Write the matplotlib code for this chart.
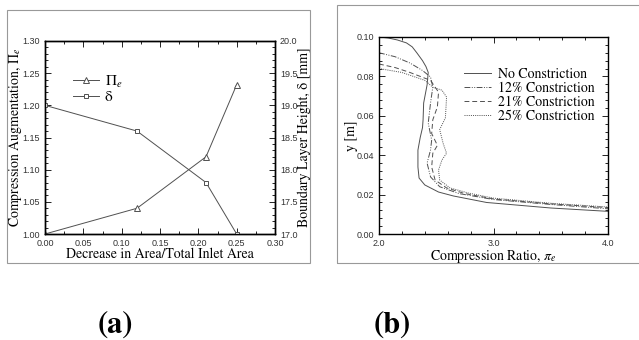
import matplotlib
matplotlib.use("Agg")
import matplotlib.pyplot as plt
from matplotlib.patches import Rectangle
from matplotlib.ticker import MultipleLocator

plt.rcParams["font.family"] = ["STIXGeneral", "DejaVu Serif"]
plt.rcParams["mathtext.fontset"] = "stix"

# panel (a)
area = [0.0, 0.12, 0.21, 0.25]
pi_e = [1.00, 1.04, 1.12, 1.232]
delta = [19.0, 18.6, 17.8, 17.0]

# panel (b): (compression ratio, y)
no_x = [2.0, 2.08, 2.16, 2.24, 2.29, 2.33, 2.38, 2.41, 2.43, 2.42, 2.39, 2.385, 2.38, 2.36, 2.34, 2.34, 2.35, 2.40, 2.52, 2.65, 2.94, 3.5, 4.0]
no_y = [0.100, 0.0995, 0.0985, 0.097, 0.095, 0.092, 0.088, 0.085, 0.082, 0.0757, 0.0665, 0.058, 0.054, 0.049, 0.0426, 0.034, 0.0284, 0.0249, 0.0213, 0.0193, 0.016, 0.0132, 0.0115]
c12_x = [2.0, 2.14, 2.27, 2.38, 2.45, 2.47, 2.45, 2.43, 2.46, 2.45, 2.42, 2.45, 2.53, 2.70, 3.0, 3.5, 4.0]
c12_y = [0.092, 0.090, 0.0868, 0.083, 0.0797, 0.0746, 0.0665, 0.0563, 0.0477, 0.0426, 0.036, 0.029, 0.024, 0.0205, 0.0175, 0.015, 0.0128]
c21_x = [2.0, 2.14, 2.27, 2.45, 2.52, 2.51, 2.47, 2.46, 2.51, 2.47, 2.46, 2.49, 2.59, 2.75, 3.0, 3.5, 4.0]
c21_y = [0.0863, 0.0845, 0.082, 0.078, 0.072, 0.0645, 0.058, 0.051, 0.045, 0.041, 0.034, 0.0274, 0.0234, 0.0205, 0.0178, 0.0153, 0.0134]
c25_x = [2.0, 2.2, 2.40, 2.47, 2.55, 2.59, 2.58, 2.53, 2.56, 2.59, 2.55, 2.52, 2.53, 2.62, 2.78, 3.0, 3.5, 4.0]
c25_y = [0.084, 0.082, 0.078, 0.0745, 0.073, 0.0695, 0.059, 0.053, 0.046, 0.041, 0.0376, 0.0325, 0.0274, 0.0234, 0.0208, 0.0182, 0.0156, 0.0137]

lc = "#505050"
fig = plt.figure(figsize=(6.39, 3.40), dpi=100)

# panel frames
fig.patches.append(Rectangle((7 / 639, 1 - 263 / 340), 303 / 639, 253 / 340, transform=fig.transFigure,
                             fill=False, ec="#999999", lw=0.8))
fig.patches.append(Rectangle((337 / 639, 1 - 263 / 340), 400 / 639, 258 / 340, transform=fig.transFigure,
                             fill=False, ec="#999999", lw=0.8))

def style(ax):
    ax.tick_params(which="both", direction="in", labelsize=6.5, width=0.6,
                   labelfontfamily="Liberation Sans", labelcolor="#333333")
    ax.tick_params(which="major", length=4)
    ax.tick_params(which="minor", length=2)
    for s in ax.spines.values():
        s.set_linewidth(1.0)

ax1 = fig.add_axes([45 / 639, 1 - 234 / 340, 230 / 639, 193 / 340])
l1, = ax1.plot(area, pi_e, color=lc, lw=0.7, marker="^", ms=4, mfc="white", mec=lc, mew=0.7)
ax1.set_xlim(0, 0.30)
ax1.set_ylim(1.0, 1.30)
ax1.xaxis.set_major_locator(MultipleLocator(0.05))
ax1.xaxis.set_minor_locator(MultipleLocator(0.025))
ax1.yaxis.set_major_locator(MultipleLocator(0.05))
ax1.yaxis.set_minor_locator(MultipleLocator(0.01))
ax1.tick_params(which="both", top=True)
ax1.xaxis.set_major_formatter(plt.FormatStrFormatter("%.2f"))
ax1.yaxis.set_major_formatter(plt.FormatStrFormatter("%.2f"))
ax1.set_xlabel("Decrease in Area/Total Inlet Area", fontsize=10, labelpad=0)
ax1.set_ylabel(r"Compression Augmentation, $\Pi_e$", fontsize=10)
ax1.yaxis.set_label_coords(-0.09, 0.5)
ax2 = ax1.twinx()
l2, = ax2.plot(area, delta, color=lc, lw=0.7, marker="s", ms=3.5, mfc="white", mec=lc, mew=0.7)
ax2.set_ylim(17.0, 20.0)
ax2.yaxis.set_major_locator(MultipleLocator(0.5))
ax2.yaxis.set_minor_locator(MultipleLocator(0.1))
ax2.yaxis.set_major_formatter(plt.FormatStrFormatter("%.1f"))
ax2.set_ylabel("Boundary Layer Height, δ [mm]", fontsize=10)
ax2.yaxis.set_label_coords(1.10, 0.5)
style(ax1)
style(ax2)
ax1.legend([l1, l2], [r"$\Pi_e$", "δ"], loc="upper left", bbox_to_anchor=(0.087, 0.87), frameon=False,
           fontsize=11, handlelength=1.7, handletextpad=0.4, labelspacing=0.05, borderpad=0)

ax3 = fig.add_axes([379 / 639, 1 - 234 / 340, 229 / 639, 197 / 340])
ax3.plot(no_x, no_y, color=lc, lw=0.7, ls="-", label="No Constriction")
ax3.plot(c12_x, c12_y, color=lc, lw=0.7, ls=(0, (6, 1.5, 1, 1.5, 1, 1.5)), label="12% Constriction")
ax3.plot(c21_x, c21_y, color=lc, lw=0.7, ls=(0, (5, 3)), label="21% Constriction")
ax3.plot(c25_x, c25_y, color=lc, lw=0.7, ls=(0, (1, 1.2)), label="25% Constriction")
ax3.set_xlim(2.0, 4.0)
ax3.set_ylim(0.0, 0.10)
ax3.xaxis.set_major_locator(MultipleLocator(1.0))
ax3.xaxis.set_minor_locator(MultipleLocator(0.2))
ax3.yaxis.set_major_locator(MultipleLocator(0.02))
ax3.yaxis.set_minor_locator(MultipleLocator(0.004))
ax3.tick_params(which="both", top=True, right=True)
ax3.xaxis.set_major_formatter(plt.FormatStrFormatter("%.1f"))
ax3.yaxis.set_major_formatter(plt.FormatStrFormatter("%.2f"))
ax3.set_xlabel(r"Compression Ratio, $\pi_e$", fontsize=10, labelpad=0)
ax3.set_ylabel("y [m]", fontsize=10)
ax3.yaxis.set_label_coords(-0.092, 0.5)
style(ax3)
ax3.legend(loc="upper right", bbox_to_anchor=(0.97, 0.88), frameon=False, fontsize=10,
           handlelength=1.9, handletextpad=0.5, labelspacing=0.05, borderpad=0)

fig.text(115 / 639, 1 - 325 / 340, "(a)", fontsize=22, fontweight="bold", ha="center", va="center")
fig.text(392 / 639, 1 - 325 / 340, "(b)", fontsize=22, fontweight="bold", ha="center", va="center")

fig.savefig("out.png", dpi=100)
